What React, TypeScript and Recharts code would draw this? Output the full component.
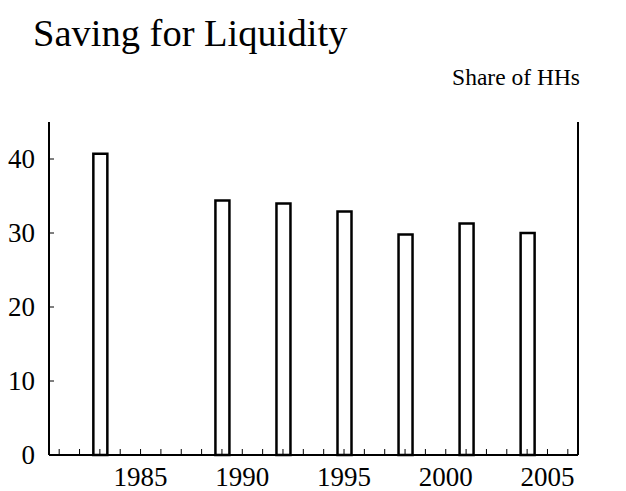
import { BarChart, Bar, XAxis, YAxis } from 'recharts';

// survey years and share of households saving for liquidity (%)
const surveyYears = [1983, 1989, 1992, 1995, 1998, 2001, 2004];
const shareOfHHs = [40.7, 34.4, 34.0, 32.9, 29.8, 31.3, 30.0];

// minor ticks every year, labels every five years
const yearTicks = [
  1981, 1982, 1983, 1984, 1985, 1986, 1987, 1988, 1989, 1990, 1991, 1992, 1993,
  1994, 1995, 1996, 1997, 1998, 1999, 2000, 2001, 2002, 2003, 2004, 2005, 2006,
];
const yearLabels = [1985, 1990, 1995, 2000, 2005];
const valueTicks = [0, 10, 20, 30, 40];

const data = surveyYears.map((year, i) => ({ year, share: shareOfHHs[i] }));

const FONT = '"Liberation Serif", "Times New Roman", serif';

const XTick = (props: any) => {
  const { x, y, payload } = props;
  const showLabel = yearLabels.includes(payload.value);
  return (
    <g>
      <line x1={x} y1={y} x2={x} y2={y - 6} stroke="#000" strokeWidth={1} />
      {showLabel && (
        <text x={x} y={y + 31} textAnchor="middle" fontSize={27} fontFamily={FONT} fill="#000">
          {payload.value}
        </text>
      )}
    </g>
  );
};

const LeftTick = (props: any) => {
  const { x, y, payload } = props;
  return (
    <g>
      <line x1={x} y1={y} x2={x + 5} y2={y} stroke="#000" strokeWidth={1} />
      <text x={x - 14} y={y} dy="0.35em" textAnchor="end" fontSize={27} fontFamily={FONT} fill="#000">
        {payload.value}
      </text>
    </g>
  );
};

const RightTick = (props: any) => {
  const { x, y, payload } = props;
  return (
    <g>
      <line x1={x} y1={y} x2={x - 5} y2={y} stroke="#000" strokeWidth={1} />
      <text x={x + 13} y={y} dy="0.35em" textAnchor="start" fontSize={27} fontFamily={FONT} fill="#000">
        {payload.value}
      </text>
    </g>
  );
};

export default function App() {
  return (
    <div style={{ position: 'absolute', left: 0, top: 0, width: 626, height: 491, background: '#fff' }}>
      <BarChart width={626} height={491} data={data} margin={{ top: 122, right: 0, left: 0, bottom: 0 }}>
        <XAxis
          dataKey="year"
          type="number"
          domain={[1980.5, 2006.5]}
          ticks={yearTicks}
          interval={0}
          height={36}
          tickSize={0}
          tickMargin={0}
          tickLine={false}
          axisLine={{ stroke: '#000', strokeWidth: 2 }}
          tick={<XTick />}
        />
        <YAxis
          yAxisId="left"
          orientation="left"
          domain={[0, 45]}
          ticks={valueTicks}
          width={49}
          tickSize={0}
          tickMargin={0}
          tickLine={false}
          axisLine={{ stroke: '#000', strokeWidth: 2 }}
          tick={<LeftTick />}
        />
        <YAxis
          yAxisId="right"
          orientation="right"
          domain={[0, 45]}
          ticks={valueTicks}
          width={48}
          tickSize={0}
          tickMargin={0}
          tickLine={false}
          axisLine={{ stroke: '#000', strokeWidth: 2 }}
          tick={<RightTick />}
        />
        <Bar
          yAxisId="left"
          dataKey="share"
          barSize={14}
          fill="#fff"
          stroke="#000"
          strokeWidth={2.5}
          isAnimationActive={false}
        />
      </BarChart>
      <svg width={626} height={491} style={{ position: 'absolute', left: 0, top: 0, pointerEvents: 'none' }}>
        <text x={33} y={46} fontSize={38.5} fontFamily={FONT} fill="#000">
          Saving for Liquidity
        </text>
        <text x={580} y={85} fontSize={23.5} textAnchor="end" fontFamily={FONT} fill="#000">
          Share of HHs
        </text>
      </svg>
    </div>
  );
}
